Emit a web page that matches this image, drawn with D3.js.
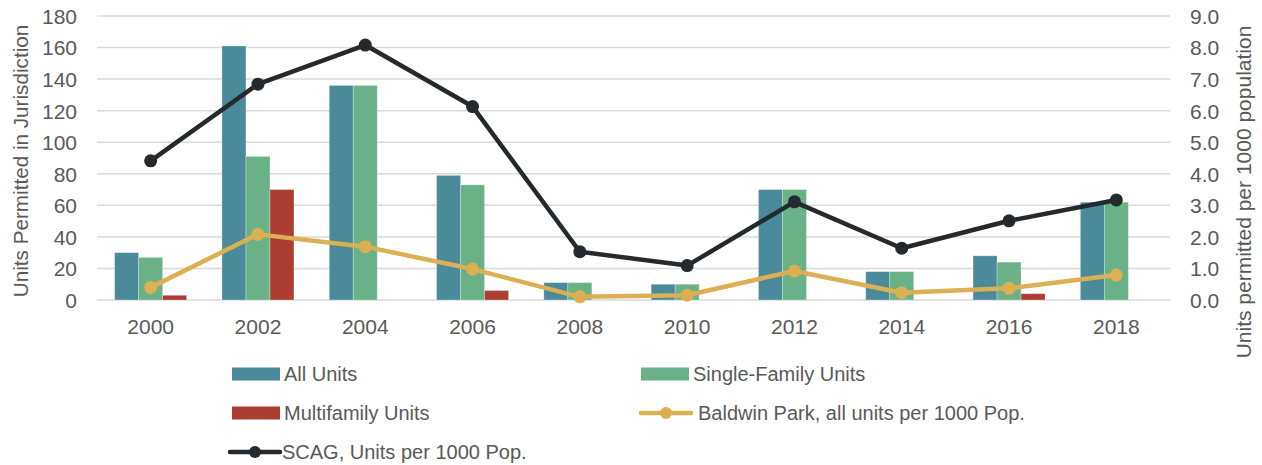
<!DOCTYPE html>
<html>
<head>
<meta charset="utf-8">
<script src="https://cdn.jsdelivr.net/npm/d3@7"></script>
<style>
  html, body { margin: 0; padding: 0; background: #fff; }
  svg { display: block; }
  text { font-family: "Liberation Sans", Arial, sans-serif; fill: #595959; }
</style>
</head>
<body>
<svg id="chart" width="1262" height="465"></svg>
<script>
const years = ["2000","2002","2004","2006","2008","2010","2012","2014","2016","2018"];
const allUnits = [30, 161, 136, 79, 11, 10, 70, 18, 28, 62];
const singleFamily = [27, 91, 136, 73, 11, 10, 70, 18, 24, 62];
const multiFamily = [3, 70, 0, 6, 0, 0, 0, 0, 4, 0];
const baldwinPer1000 = [0.40, 2.08, 1.69, 0.98, 0.10, 0.15, 0.92, 0.23, 0.37, 0.79];
const scagPer1000 = [4.41, 6.84, 8.08, 6.13, 1.53, 1.09, 3.11, 1.64, 2.51, 3.17];
const leftTicks = [0, 20, 40, 60, 80, 100, 120, 140, 160, 180];
const rightTicks = [0, 1, 2, 3, 4, 5, 6, 7, 8, 9];
const barSeries = ["All Units", "Single-Family Units", "Multifamily Units"];
const lineSeries = ["Baldwin Park, all units per 1000 Pop.", "SCAG, Units per 1000 Pop."];

const colors = {
  "All Units": "#4a8a9a",
  "Single-Family Units": "#6ab187",
  "Multifamily Units": "#ac3d31",
  "Baldwin Park, all units per 1000 Pop.": "#dcb052",
  "SCAG, Units per 1000 Pop.": "#23292c"
};

const svg = d3.select("#chart");
const plot = { left: 97, right: 1170, top: 16, bottom: 300 };

const x0 = d3.scaleBand().domain(years).range([plot.left, plot.right]).padding(0);
const bw = x0.bandwidth();
const groupW = 72;
const x1 = d3.scaleBand().domain(barSeries).range([(bw - groupW) / 2, (bw + groupW) / 2]).padding(0);
const yL = d3.scaleLinear().domain([0, 180]).range([plot.bottom, plot.top]);
const yR = d3.scaleLinear().domain([0, 9]).range([plot.bottom, plot.top]);

// gridlines
svg.append("g").selectAll("line").data(leftTicks).join("line")
  .attr("x1", plot.left).attr("x2", plot.right)
  .attr("y1", d => yL(d)).attr("y2", d => yL(d))
  .attr("stroke", "#d9d9d9").attr("stroke-width", 1.5);

// left axis
const leftAxis = d3.axisLeft(yL).tickValues(leftTicks).tickSize(0).tickPadding(0).tickFormat(d3.format("d"));
const gL = svg.append("g").attr("transform", `translate(${77},0)`).call(leftAxis);
gL.select(".domain").remove();
gL.selectAll("text").style("font-size", "21px").attr("fill", "#595959")
  .style("font-family", "'Liberation Sans', Arial, sans-serif").attr("dy", "0.35em");

// right axis
const rightAxis = d3.axisRight(yR).tickValues(rightTicks).tickSize(0).tickPadding(0).tickFormat(d3.format(".1f"));
const gR = svg.append("g").attr("transform", `translate(${1190},0)`).call(rightAxis);
gR.select(".domain").remove();
gR.selectAll("text").style("font-size", "21px").attr("fill", "#595959")
  .style("font-family", "'Liberation Sans', Arial, sans-serif").attr("dy", "0.35em");

// x axis
const xAxis = d3.axisBottom(x0).tickSize(0).tickPadding(0);
const gX = svg.append("g").attr("transform", `translate(0,${plot.bottom})`).call(xAxis);
gX.select(".domain").remove();
gX.selectAll("text").style("font-size", "21px").attr("fill", "#595959")
  .style("font-family", "'Liberation Sans', Arial, sans-serif").attr("dy", "0").attr("y", 34);

// axis titles
svg.append("text").attr("transform", `translate(28,${161}) rotate(-90)`)
  .attr("text-anchor", "middle").style("font-size", "20.7px").text("Units Permitted in Jurisdiction");
svg.append("text").attr("transform", `translate(1251,${192}) rotate(-90)`)
  .attr("text-anchor", "middle").style("font-size", "21px").text("Units permitted per 1000 population");

// bars
const barData = years.map((yr, i) => ({
  year: yr,
  values: [
    { key: "All Units", v: allUnits[i] },
    { key: "Single-Family Units", v: singleFamily[i] },
    { key: "Multifamily Units", v: multiFamily[i] }
  ]
}));
svg.append("g").selectAll("g").data(barData).join("g")
  .attr("transform", d => `translate(${x0(d.year)},0)`)
  .selectAll("rect").data(d => d.values.filter(e => e.v > 0)).join("rect")
  .attr("x", d => x1(d.key)).attr("width", x1.bandwidth())
  .attr("y", d => yL(d.v)).attr("height", d => yL(0) - yL(d.v))
  .attr("fill", d => colors[d.key])
  .attr("stroke", "#ffffff").attr("stroke-opacity", 0.35).attr("stroke-width", 0.8);

// lines
function drawLine(values, key, width, r) {
  const pts = years.map((yr, i) => [x0(yr) + bw / 2, yR(values[i])]);
  svg.append("path").attr("d", d3.line()(pts))
    .attr("fill", "none").attr("stroke", colors[key]).attr("stroke-width", width)
    .attr("stroke-linejoin", "round").attr("stroke-linecap", "round");
  svg.append("g").selectAll("circle").data(pts).join("circle")
    .attr("cx", d => d[0]).attr("cy", d => d[1]).attr("r", r)
    .attr("fill", colors[key]);
}
drawLine(baldwinPer1000, lineSeries[0], 4.5, 6.5);
drawLine(scagPer1000, lineSeries[1], 4.5, 6.5);

// legend
const legendItems = [
  { key: "All Units", type: "bar", x: 232, y: 374 },
  { key: "Single-Family Units", type: "bar", x: 641, y: 374 },
  { key: "Multifamily Units", type: "bar", x: 232, y: 413 },
  { key: "Baldwin Park, all units per 1000 Pop.", type: "line", x: 641, y: 413 },
  { key: "SCAG, Units per 1000 Pop.", type: "line", x: 230, y: 452 }
];
const lg = svg.append("g").selectAll("g").data(legendItems).join("g")
  .attr("transform", d => `translate(${d.x},${d.y})`);
lg.filter(d => d.type === "bar").append("rect")
  .attr("x", 0).attr("y", -6.5).attr("width", 48).attr("height", 13)
  .attr("fill", d => colors[d.key]);
lg.filter(d => d.type === "line").append("line")
  .attr("x1", 0).attr("x2", 50).attr("y1", 0).attr("y2", 0)
  .attr("stroke", d => colors[d.key]).attr("stroke-width", 4.5).attr("stroke-linecap", "round");
lg.filter(d => d.type === "line").append("circle")
  .attr("cx", 25).attr("cy", 0).attr("r", 6).attr("fill", d => colors[d.key]);
lg.append("text")
  .attr("x", d => d.type === "line" && d.x > 400 ? 57 : 52)
  .attr("y", 0).attr("dy", "0.35em").style("font-size", "20px")
  .text(d => d.key);
</script>
</body>
</html>
